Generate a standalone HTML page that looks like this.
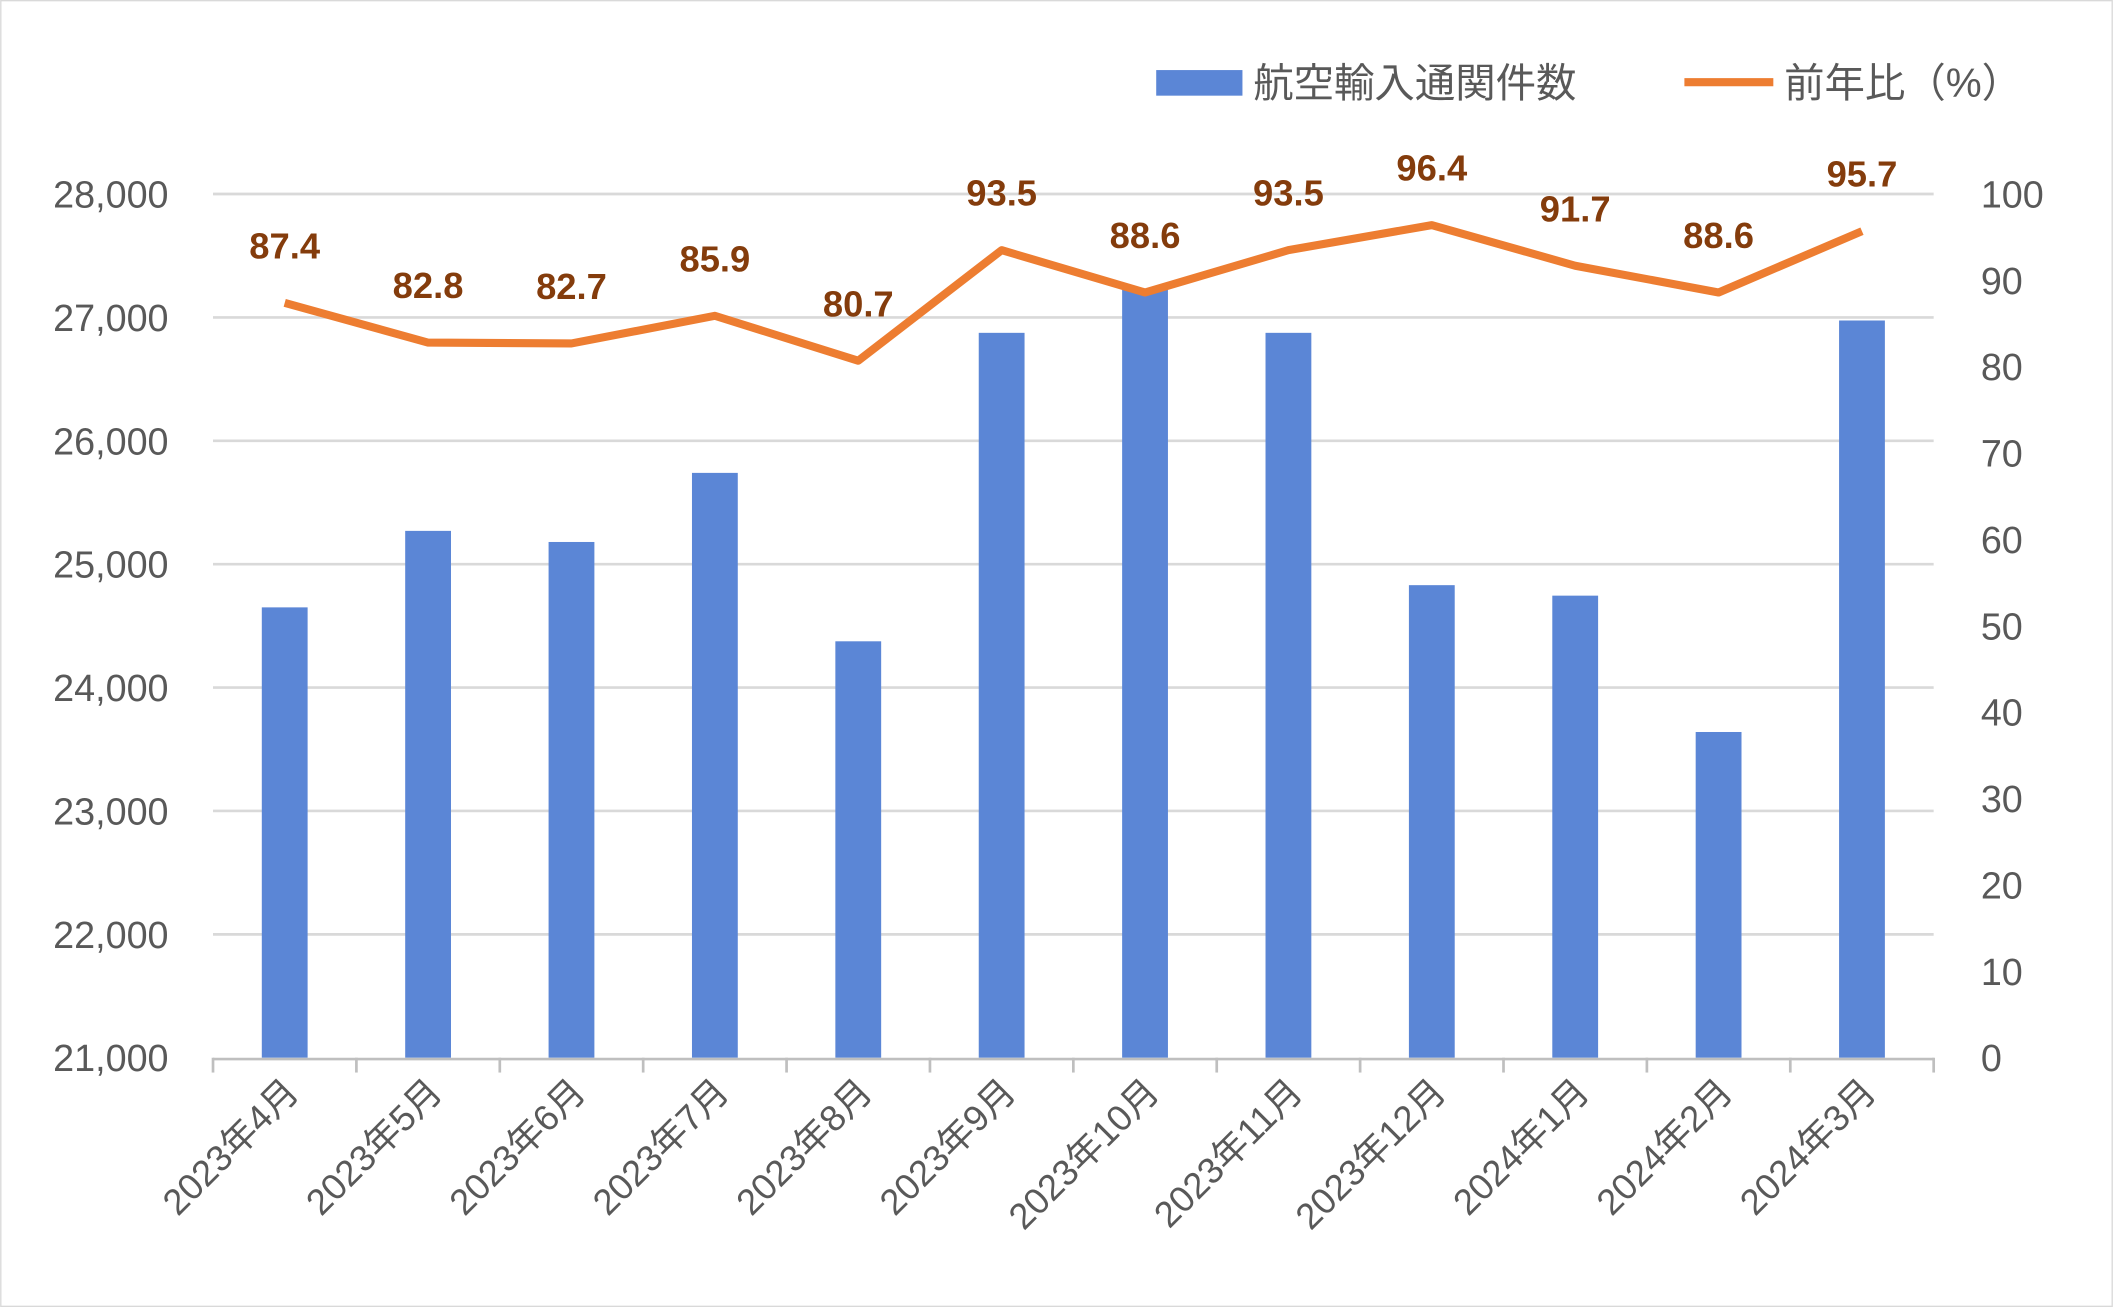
<!DOCTYPE html>
<html><head><meta charset="utf-8">
<style>html,body{margin:0;padding:0;background:#fff}svg{display:block}
text{font-family:"Liberation Sans","Noto Sans CJK JP",sans-serif}</style></head>
<body>
<svg id="chart" width="2113" height="1307" viewBox="0 0 1568 970" xmlns="http://www.w3.org/2000/svg">
<rect x="0.5" y="0.5" width="1567" height="969" fill="#fff" stroke="#d9d9d9"/>
<g id="grid"></g><g id="bars"></g><g id="axes"></g><g id="line"></g><g id="labels"></g>
<g>
<rect x="858" y="52" width="64" height="19" fill="#5b86d6"/>
<text x="930" y="72" font-size="30" fill="#595959">航空輸入通関件数</text>
<line x1="1250" y1="61" x2="1316" y2="61" stroke="#ed7d31" stroke-width="6"/>
<text x="1324" y="72" font-size="30" fill="#595959">前年比（%）</text>
</g>
</svg>
<script>
const categories=["2023年4月","2023年5月","2023年6月","2023年7月","2023年8月","2023年9月","2023年10月","2023年11月","2023年12月","2024年1月","2024年2月","2024年3月"];
const counts=[24650,25270,25180,25740,24375,26875,27230,26875,24830,24745,23640,26975];
const ratios=[87.4,82.8,82.7,85.9,80.7,93.5,88.6,93.5,96.4,91.7,88.6,95.7];
const leftTicks=[21000,22000,23000,24000,25000,26000,27000,28000];
const rightTicks=[0,10,20,30,40,50,60,70,80,90,100];
const NS="http://www.w3.org/2000/svg";
const X0=158,X1=1435,YT=144,YB=785;
const bw=(X1-X0)/categories.length;
const xc=i=>X0+bw*(i+0.5);
const yL=v=>YB-(v-21000)/7000*(YB-YT);
const yR=v=>YB-v/100*(YB-YT);
function mk(tag,attrs,parent,txt){const e=document.createElementNS(NS,tag);for(const k in attrs)e.setAttribute(k,attrs[k]);if(txt!=null)e.textContent=txt;document.getElementById(parent).appendChild(e);return e;}
leftTicks.forEach(t=>{
  if(t>21000){const g=mk('line',{x1:X0,x2:X1,y1:yL(t),y2:yL(t),stroke:'#d9d9d9','stroke-width':2},'grid');
  
  }
  const l=mk('text',{x:125,y:yL(t)+10,'font-size':28,fill:'#595959','text-anchor':'end'},'axes',t.toLocaleString('en-US'));
  
  
});
rightTicks.forEach(t=>{
  const l=mk('text',{x:1470,y:yR(t)+10,'font-size':28,fill:'#595959','text-anchor':'start'},'axes',String(t));
  
  
});
const ax=mk('line',{x1:X0,x2:X1,y1:YB+1,y2:YB+1,stroke:'#bfbfbf','stroke-width':2},'axes');


for(let i=0;i<=categories.length;i++){
  const tk=mk('line',{x1:X0+bw*i,x2:X0+bw*i,y1:YB,y2:YB+11,stroke:'#bfbfbf','stroke-width':2},'axes');
  
  
}
categories.forEach((c,i)=>{
  const b=mk('rect',{x:xc(i)-17,y:yL(counts[i]),width:34,height:YB-yL(counts[i]),fill:'#5b86d6'},'bars');
  
  
  const l=mk('text',{x:xc(i)+12,y:812,'font-size':27,fill:'#595959','text-anchor':'end',transform:`rotate(-45 ${xc(i)+12} 812)`},'axes',c);
  
  
});
const pts=ratios.map((v,i)=>xc(i)+','+yR(v)).join(' ');
const pl=mk('polyline',{points:pts,fill:'none',stroke:'#ed7d31','stroke-width':6,'stroke-linejoin':'round'},'line');


ratios.forEach((v,i)=>{
  const t=mk('text',{x:xc(i),y:yR(v)-33,'font-size':27,'font-weight':'bold',fill:'#843c0c','text-anchor':'middle'},'labels',v.toFixed(1));
  
  
});
</script>
</body></html>
